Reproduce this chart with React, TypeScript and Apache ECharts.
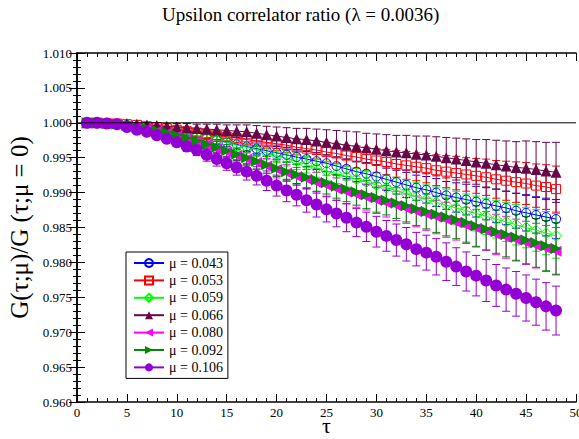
import React, { useEffect, useRef } from "react";
import * as echarts from "echarts";

const tau = [1, 2, 3, 4, 5, 6, 7, 8, 9, 10, 11, 12, 13, 14, 15, 16, 17, 18, 19, 20, 21, 22, 23, 24, 25, 26, 27, 28, 29, 30, 31, 32, 33, 34, 35, 36, 37, 38, 39, 40, 41, 42, 43, 44, 45, 46, 47, 48];

const muLabels = ["μ = 0.043", "μ = 0.053", "μ = 0.059", "μ = 0.066", "μ = 0.080", "μ = 0.092", "μ = 0.106"];

const g043 = [1.0000, 1.0000, 0.9999, 0.9998, 0.9997, 0.9995, 0.9993, 0.9991, 0.9989, 0.9986, 0.9984, 0.9981, 0.9978, 0.9975, 0.9972, 0.9969, 0.9966, 0.9963, 0.9960, 0.9957, 0.9954, 0.9951, 0.9948, 0.9945, 0.9942, 0.9938, 0.9934, 0.9930, 0.9927, 0.9923, 0.9919, 0.9915, 0.9911, 0.9907, 0.9904, 0.9900, 0.9896, 0.9893, 0.9890, 0.9887, 0.9884, 0.9881, 0.9878, 0.9874, 0.9871, 0.9868, 0.9865, 0.9862];
const e043 = [0, 0.0000, 0.0001, 0.0001, 0.0001, 0.0002, 0.0002, 0.0003, 0.0003, 0.0004, 0.0004, 0.0005, 0.0005, 0.0006, 0.0006, 0.0007, 0.0007, 0.0008, 0.0008, 0.0009, 0.0010, 0.0010, 0.0011, 0.0012, 0.0012, 0.0013, 0.0014, 0.0014, 0.0015, 0.0016, 0.0016, 0.0017, 0.0018, 0.0018, 0.0019, 0.0020, 0.0020, 0.0021, 0.0022, 0.0022, 0.0023, 0.0024, 0.0024, 0.0025, 0.0026, 0.0026, 0.0027, 0.0028];

const g053 = [1.0000, 1.0000, 0.9999, 0.9999, 0.9998, 0.9997, 0.9995, 0.9994, 0.9992, 0.9990, 0.9988, 0.9986, 0.9984, 0.9982, 0.9980, 0.9978, 0.9976, 0.9974, 0.9972, 0.9970, 0.9968, 0.9965, 0.9963, 0.9961, 0.9958, 0.9956, 0.9953, 0.9951, 0.9948, 0.9946, 0.9944, 0.9941, 0.9939, 0.9937, 0.9935, 0.9932, 0.9930, 0.9928, 0.9926, 0.9924, 0.9922, 0.9919, 0.9917, 0.9915, 0.9913, 0.9910, 0.9908, 0.9905];
const e053 = [0, 0.0000, 0.0001, 0.0001, 0.0001, 0.0002, 0.0002, 0.0003, 0.0003, 0.0004, 0.0004, 0.0005, 0.0005, 0.0006, 0.0006, 0.0007, 0.0008, 0.0008, 0.0009, 0.0010, 0.0011, 0.0011, 0.0012, 0.0013, 0.0014, 0.0014, 0.0015, 0.0016, 0.0017, 0.0017, 0.0018, 0.0019, 0.0020, 0.0020, 0.0021, 0.0022, 0.0023, 0.0024, 0.0024, 0.0025, 0.0026, 0.0027, 0.0028, 0.0029, 0.0030, 0.0031, 0.0032, 0.0033];

const g059 = [1.0000, 1.0000, 0.9999, 0.9998, 0.9997, 0.9995, 0.9993, 0.9991, 0.9989, 0.9987, 0.9984, 0.9981, 0.9978, 0.9975, 0.9972, 0.9968, 0.9965, 0.9961, 0.9957, 0.9953, 0.9949, 0.9945, 0.9940, 0.9935, 0.9931, 0.9927, 0.9923, 0.9919, 0.9915, 0.9911, 0.9907, 0.9903, 0.9898, 0.9894, 0.9890, 0.9886, 0.9882, 0.9878, 0.9874, 0.9870, 0.9866, 0.9862, 0.9858, 0.9854, 0.9850, 0.9846, 0.9842, 0.9838];
const e059 = [0, 0.0000, 0.0001, 0.0001, 0.0002, 0.0002, 0.0003, 0.0003, 0.0004, 0.0004, 0.0005, 0.0005, 0.0006, 0.0006, 0.0007, 0.0008, 0.0008, 0.0009, 0.0010, 0.0010, 0.0011, 0.0012, 0.0012, 0.0013, 0.0014, 0.0014, 0.0015, 0.0016, 0.0017, 0.0017, 0.0018, 0.0019, 0.0020, 0.0020, 0.0021, 0.0022, 0.0023, 0.0024, 0.0024, 0.0025, 0.0026, 0.0027, 0.0028, 0.0029, 0.0029, 0.0030, 0.0031, 0.0032];

const g066 = [1.0000, 1.0000, 1.0000, 0.9999, 0.9999, 0.9998, 0.9997, 0.9996, 0.9995, 0.9994, 0.9993, 0.9992, 0.9991, 0.9990, 0.9989, 0.9988, 0.9987, 0.9985, 0.9983, 0.9981, 0.9979, 0.9977, 0.9976, 0.9974, 0.9972, 0.9970, 0.9968, 0.9966, 0.9964, 0.9962, 0.9960, 0.9958, 0.9957, 0.9955, 0.9954, 0.9952, 0.9950, 0.9948, 0.9946, 0.9944, 0.9942, 0.9940, 0.9938, 0.9936, 0.9935, 0.9933, 0.9931, 0.9929];
const e066 = [0, 0.0000, 0.0001, 0.0001, 0.0002, 0.0002, 0.0003, 0.0004, 0.0004, 0.0005, 0.0006, 0.0006, 0.0007, 0.0008, 0.0008, 0.0009, 0.0010, 0.0011, 0.0012, 0.0013, 0.0014, 0.0015, 0.0016, 0.0017, 0.0018, 0.0019, 0.0020, 0.0021, 0.0021, 0.0022, 0.0023, 0.0024, 0.0025, 0.0026, 0.0027, 0.0028, 0.0029, 0.0030, 0.0031, 0.0032, 0.0034, 0.0035, 0.0036, 0.0037, 0.0039, 0.0040, 0.0041, 0.0043];

const g080 = [1.0000, 1.0000, 0.9999, 0.9998, 0.9996, 0.9994, 0.9991, 0.9988, 0.9985, 0.9981, 0.9977, 0.9973, 0.9968, 0.9963, 0.9958, 0.9953, 0.9948, 0.9943, 0.9938, 0.9933, 0.9928, 0.9923, 0.9919, 0.9914, 0.9910, 0.9905, 0.9901, 0.9897, 0.9893, 0.9889, 0.9885, 0.9881, 0.9877, 0.9873, 0.9869, 0.9865, 0.9861, 0.9857, 0.9853, 0.9849, 0.9845, 0.9840, 0.9836, 0.9832, 0.9828, 0.9824, 0.9820, 0.9816];
const e080 = [0, 0.0000, 0.0001, 0.0001, 0.0002, 0.0002, 0.0003, 0.0003, 0.0004, 0.0005, 0.0005, 0.0006, 0.0007, 0.0007, 0.0008, 0.0009, 0.0009, 0.0010, 0.0011, 0.0012, 0.0012, 0.0013, 0.0014, 0.0015, 0.0015, 0.0016, 0.0017, 0.0018, 0.0018, 0.0019, 0.0020, 0.0021, 0.0021, 0.0022, 0.0023, 0.0024, 0.0025, 0.0025, 0.0026, 0.0027, 0.0028, 0.0029, 0.0030, 0.0030, 0.0031, 0.0032, 0.0033, 0.0034];

const g092 = [1.0000, 1.0000, 0.9999, 0.9998, 0.9996, 0.9994, 0.9992, 0.9989, 0.9986, 0.9982, 0.9978, 0.9974, 0.9969, 0.9965, 0.9960, 0.9955, 0.9950, 0.9945, 0.9940, 0.9935, 0.9930, 0.9926, 0.9922, 0.9918, 0.9914, 0.9909, 0.9905, 0.9901, 0.9897, 0.9893, 0.9889, 0.9885, 0.9881, 0.9877, 0.9873, 0.9869, 0.9865, 0.9861, 0.9857, 0.9852, 0.9848, 0.9844, 0.9840, 0.9836, 0.9832, 0.9828, 0.9824, 0.9820];
const e092 = [0, 0.0000, 0.0001, 0.0001, 0.0002, 0.0003, 0.0003, 0.0004, 0.0004, 0.0005, 0.0006, 0.0006, 0.0007, 0.0008, 0.0009, 0.0009, 0.0010, 0.0011, 0.0012, 0.0012, 0.0013, 0.0014, 0.0015, 0.0016, 0.0016, 0.0017, 0.0018, 0.0019, 0.0020, 0.0021, 0.0021, 0.0022, 0.0023, 0.0024, 0.0025, 0.0026, 0.0027, 0.0027, 0.0028, 0.0029, 0.0030, 0.0031, 0.0032, 0.0033, 0.0034, 0.0035, 0.0036, 0.0037];

const g106 = [1.0000, 1.0000, 0.9999, 0.9998, 0.9994, 0.9990, 0.9987, 0.9982, 0.9977, 0.9972, 0.9966, 0.9961, 0.9954, 0.9948, 0.9942, 0.9936, 0.9930, 0.9924, 0.9917, 0.9910, 0.9903, 0.9897, 0.9889, 0.9883, 0.9876, 0.9870, 0.9864, 0.9857, 0.9851, 0.9844, 0.9838, 0.9832, 0.9826, 0.9819, 0.9814, 0.9808, 0.9801, 0.9794, 0.9787, 0.9781, 0.9774, 0.9767, 0.9761, 0.9755, 0.9749, 0.9743, 0.9737, 0.9731];
const e106 = [0, 0.0001, 0.0001, 0.0002, 0.0002, 0.0003, 0.0004, 0.0004, 0.0005, 0.0006, 0.0007, 0.0008, 0.0009, 0.0010, 0.0010, 0.0011, 0.0012, 0.0013, 0.0014, 0.0015, 0.0016, 0.0016, 0.0017, 0.0018, 0.0018, 0.0019, 0.0020, 0.0020, 0.0021, 0.0022, 0.0022, 0.0023, 0.0024, 0.0024, 0.0025, 0.0026, 0.0027, 0.0027, 0.0028, 0.0029, 0.0030, 0.0030, 0.0031, 0.0032, 0.0033, 0.0033, 0.0034, 0.0035];

const unityLine = [[0, 1], [50, 1]];

const values = [g043, g053, g059, g066, g080, g092, g106];
const errors = [e043, e053, e059, e066, e080, e092, e106];

const styles = [
  { color: "#0000ff", symbol: "circle", size: 9, filled: false, rotate: 0 },
  { color: "#ff0000", symbol: "rect", size: 9, filled: false, rotate: 0 },
  { color: "#00ff00", symbol: "diamond", size: 11, filled: false, rotate: 0 },
  { color: "#670748", symbol: "triangle", size: 11, filled: true, rotate: 0 },
  { color: "#ff00ff", symbol: "triangle", size: 11, filled: true, rotate: 90 },
  { color: "#008b00", symbol: "triangle", size: 11, filled: true, rotate: -90 },
  { color: "#9400d3", symbol: "circle", size: 12, filled: true, rotate: 0 },
];

const FONT = "Times New Roman";

export default function App() {
  const ref = useRef<HTMLDivElement>(null);
  useEffect(() => {
    if (!ref.current) return;
    const chart = echarts.init(ref.current, null, { renderer: "svg" });
    const series: any[] = [];
    values.forEach((vals, i) => {
      const st = styles[i];
      const errData = tau.map((t, k) => [t, vals[k] - errors[i][k], vals[k] + errors[i][k]]);
      series.push({
        type: "custom",
        name: "err" + i,
        xAxisIndex: 0,
        yAxisIndex: 0,
        clip: true,
        encode: { x: 0, y: [1, 2] },
        data: errData,
        renderItem: (params: any, api: any) => {
          const x = api.value(0);
          const lo = api.coord([x, api.value(1)]);
          const hi = api.coord([x, api.value(2)]);
          const w = 4;
          const s = { stroke: st.color, lineWidth: 1 };
          return {
            type: "group",
            children: [
              { type: "line", shape: { x1: hi[0], y1: hi[1], x2: lo[0], y2: lo[1] }, style: s },
              { type: "line", shape: { x1: hi[0] - w, y1: hi[1], x2: hi[0] + w, y2: hi[1] }, style: s },
              { type: "line", shape: { x1: lo[0] - w, y1: lo[1], x2: lo[0] + w, y2: lo[1] }, style: s },
            ],
          };
        },
      });
      series.push({
        type: "line",
        name: muLabels[i],
        xAxisIndex: 0,
        yAxisIndex: 0,
        data: tau.map((t, k) => [t, vals[k]]),
        symbol: st.symbol,
        symbolSize: st.size,
        symbolRotate: st.rotate,
        showAllSymbol: true,
        lineStyle: { color: st.color, width: 1 },
        itemStyle: st.filled
          ? { color: st.color, borderWidth: 0 }
          : { color: "rgba(255,255,255,0)", borderColor: st.color, borderWidth: 1 },
        emphasis: { disabled: true },
      });
    });
    series.push({
      type: "line",
      name: "unity",
      data: unityLine,
      symbol: "none",
      lineStyle: { color: "#000", width: 1 },
      z: 10,
      silent: true,
    });

    const axisCommon = {
      axisLine: { show: true, lineStyle: { color: "#000", width: 1.5 } },
      axisTick: { show: true, inside: true, length: 8, lineStyle: { color: "#000", width: 1 } },
      minorTick: { show: true, splitNumber: 5, length: 4, lineStyle: { color: "#000", width: 1 } },
      splitLine: { show: false },
    };

    chart.setOption({
      animation: false,
      backgroundColor: "#fff",
      textStyle: { fontFamily: FONT },
      title: {
        text: "Upsilon correlator ratio (λ = 0.0036)",
        left: 157,
        top: 0,
        textStyle: { fontFamily: FONT, fontSize: 19, fontWeight: "normal", color: "#000" },
      },
      legend: {
        data: muLabels,
        orient: "vertical",
        left: 126,
        top: 252,
        backgroundColor: "#fff",
        borderColor: "#000",
        borderWidth: 1,
        borderRadius: 0,
        padding: [4, 5, 4, 7],
        itemWidth: 30,
        itemHeight: 10,
        itemGap: 3.4,
        textStyle: { fontFamily: FONT, fontSize: 14, color: "#000", lineHeight: 14 },
        selectedMode: false,
      },
      grid: { left: 77, right: 3, top: 53, bottom: 37, containLabel: false, outerBoundsMode: "none" },
      xAxis: [
        {
          type: "value",
          min: 0,
          max: 50,
          interval: 5,
          position: "bottom",
          name: "τ",
          nameLocation: "middle",
          nameGap: 12,
          nameMoveOverlap: false,
          nameTextStyle: { fontFamily: FONT, fontSize: 22, color: "#000", lineHeight: 22 },
          axisLabel: { fontFamily: FONT, fontSize: 13, color: "#000", margin: 4 },
          ...axisCommon,
        },
        {
          type: "value",
          min: 0,
          max: 50,
          interval: 5,
          position: "top",
          axisLabel: { show: false },
          ...axisCommon,
        },
      ],
      yAxis: [
        {
          type: "value",
          min: 0.96,
          max: 1.01,
          interval: 0.005,
          position: "left",
          name: "G(τ;μ)/G (τ;μ = 0)",
          nameLocation: "middle",
          nameGap: 45,
          nameTextStyle: { fontFamily: FONT, fontSize: 25, color: "#000" },
          axisLabel: {
            fontFamily: FONT,
            fontSize: 13,
            color: "#000",
            margin: 5,
            formatter: (v: number) => v.toFixed(3),
          },
          ...axisCommon,
        },
        {
          type: "value",
          min: 0.96,
          max: 1.01,
          interval: 0.005,
          position: "right",
          axisLabel: { show: false },
          ...axisCommon,
        },
      ],
      series,
    });
    return () => chart.dispose();
  }, []);
  return <div ref={ref} style={{ position: "fixed", left: 0, top: 0, width: 579, height: 439 }} />;
}
